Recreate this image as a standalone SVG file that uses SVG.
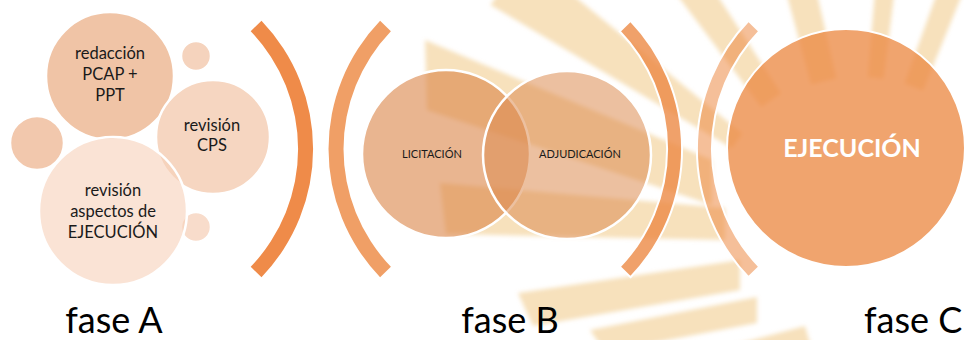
<svg xmlns="http://www.w3.org/2000/svg" width="964" height="340" viewBox="0 0 964 340">
<defs>
<filter id="soft" x="-10%" y="-10%" width="120%" height="120%">
  <feGaussianBlur stdDeviation="2"/>
</filter>
</defs>
<style>
.ray{fill:#F0C885;fill-opacity:0.55}
.c{stroke:#FFFFFF;stroke-width:2.5}
.t{font-family:Lato,"Liberation Sans",sans-serif;fill:#1A1A1A;text-anchor:middle}
.n{font-size:16.5px}
.s{font-size:11px}
.f{font-family:Lato,"Liberation Sans",sans-serif;font-size:36px;fill:#000000}
</style>
<rect x="0" y="0" width="964" height="340" fill="#FFFFFF"/>
<g id="watermark" filter="url(#soft)">
  <g transform="translate(860 227)">
    <polygon class="ray" points="150,-10 300,-13 300,13 150,10" transform="rotate(-69)"/>
    <polygon class="ray" points="150,-8 300,-11 300,11 150,8" transform="rotate(-84)"/>
    <polygon class="ray" points="150,-13 300,-16 300,16 150,13" transform="rotate(-104)"/>
    <polygon class="ray" points="155,-12 330,-18 330,18 155,12" transform="rotate(-125)"/>
    <polygon class="ray" points="150,-9 430,-30 430,30 150,9" transform="rotate(-145)"/>
  </g>
  <polygon class="ray" points="425,40 712,160 712,205 427,110"/>
  <polygon class="ray" points="440,183 725,208 725,240 446,234"/>
  <polygon class="ray" points="518,293 740,260 740,290 533,326"/>
  <polygon class="ray" points="590,330 757,297 757,323 605,352"/>
  <polygon class="ray" points="715,350 805,326 812,350"/>
</g>
<g id="separators">
  <path d="M 261.5 20.8 A 185.1 185.1 0 0 1 261.5 277.2 L 250.7 266.8 A 170.1 170.1 0 0 0 250.7 31.2 Z" fill="#EF8B49"/>
  <path d="M 380.1 20.8 A 185.1 185.1 0 0 0 380.1 277.2 L 390.9 266.8 A 170.1 170.1 0 0 1 390.9 31.2 Z" fill="#F09F66"/>
  <path d="M 630.5 20.8 A 185.1 185.1 0 0 1 630.5 277.2 L 619.7 266.8 A 170.1 170.1 0 0 0 619.7 31.2 Z" fill="#EC8A45" fill-opacity="0.8" stroke="#FFFFFF" stroke-width="2"/>
  <path d="M 748.5 20.8 A 185.1 185.1 0 0 0 748.5 277.2 L 759.3 266.8 A 170.1 170.1 0 0 1 759.3 31.2 Z" fill="#EC8A45" fill-opacity="0.55" stroke="#FFFFFF" stroke-width="2"/>
</g>
<g id="faseA">
  <g id="bubble-top-right"><circle class="c" cx="196" cy="56" r="15" fill="#F5D3BD"/></g>
  <g id="bubble-left"><circle class="c" cx="37" cy="143" r="27" fill="#F2C8AD"/></g>
  <g id="bubble-bottom-right"><circle class="c" cx="196" cy="227" r="15" fill="#F8DCCB"/></g>
  <g id="redaccion">
    <circle class="c" cx="110" cy="76" r="64" fill="#F0C4A6"/>
    <text class="t n" x="110" y="59">redacción</text>
    <text class="t n" x="110" y="80">PCAP +</text>
    <text class="t n" x="110" y="101">PPT</text>
  </g>
  <g id="revision-cps">
    <circle class="c" cx="213" cy="137" r="57" fill="#F0BB98" fill-opacity="0.6"/>
    <text class="t n" x="212" y="131">revisión</text>
    <text class="t n" x="212" y="151">CPS</text>
  </g>
  <g id="revision-ejecucion">
    <circle class="c" cx="113" cy="211" r="74" fill="#F7D0B9" fill-opacity="0.6"/>
    <text class="t n" x="113" y="196">revisión</text>
    <text class="t n" x="113" y="217">aspectos de</text>
    <text class="t n" x="113" y="238">EJECUCIÓN</text>
  </g>
</g>
<g id="faseB">
  <g id="licitacion">
    <circle cx="446" cy="154" r="84" fill="#DA8446" fill-opacity="0.6" stroke="#FFFFFF" stroke-width="2.5"/>
  </g>
  <g id="adjudicacion">
    <circle cx="567" cy="155" r="84" fill="#DC8C52" fill-opacity="0.55" stroke="#FFFFFF" stroke-width="2.5"/>
  </g>
  <text class="t s" x="432" y="158">LICITACIÓN</text>
  <text class="t s" x="580" y="158">ADJUDICACIÓN</text>
</g>
<g id="ejecucion">
  <circle cx="846" cy="148" r="119" fill="#EC8A45" fill-opacity="0.78" stroke="#FFFFFF" stroke-width="2"/>
  <text x="852" y="157" font-family="Lato,'Liberation Sans',sans-serif" font-size="25" font-weight="bold" fill="#FFFFFF" text-anchor="middle">EJECUCIÓN</text>
</g>
<g id="labels">
  <text class="f" x="114" y="333" text-anchor="middle">fase A</text>
  <text class="f" x="510" y="333" text-anchor="middle">fase B</text>
  <text class="f" x="864" y="333">fase C</text>
</g>
</svg>
